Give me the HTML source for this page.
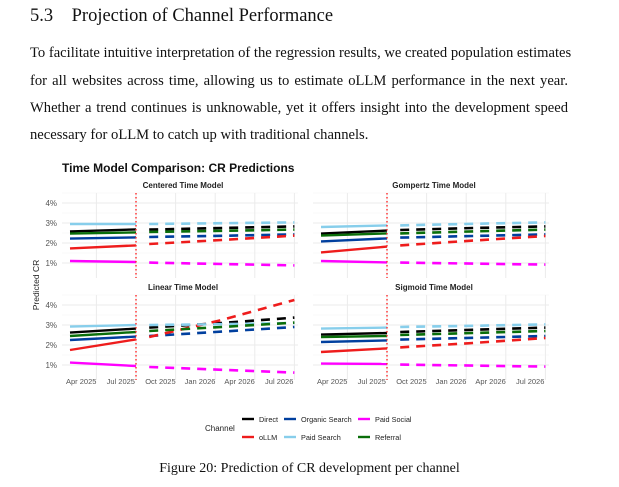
<!DOCTYPE html>
<html><head><meta charset="utf-8">
<style>
body{margin:0;width:619px;height:487px;background:#fff;overflow:hidden;position:relative;font-family:"Liberation Serif",serif;color:#111}
.ln{position:absolute;left:30px;width:538px;font-size:14.6px;white-space:nowrap}
.j{text-align:justify;text-align-last:justify}
</style></head><body>
<div style="position:absolute;left:30px;top:6px;font-size:18.5px;white-space:nowrap">5.3&nbsp;&nbsp;&nbsp;&nbsp;Projection of Channel Performance</div>
<div>
<div class="ln j" style="top:45px">To facilitate intuitive interpretation of the regression results, we created population estimates</div>
<div class="ln j" style="top:73px">for all websites across time, allowing us to estimate oLLM performance in the next year.</div>
<div class="ln j" style="top:100px">Whether a trend continues is unknowable, yet it offers insight into the development speed</div>
<div class="ln" style="top:127px">necessary for oLLM to catch up with traditional channels.</div>
</div>
<svg id="chart" style="position:absolute;left:0;top:150px" width="619" height="300" viewBox="0 150 619 300" font-family="Liberation Sans, sans-serif"></svg>
<div style="position:absolute;left:0;width:619px;top:461px;text-align:center;font-size:14px">Figure 20: Prediction of CR development per channel</div>
<script>
const channels=["Direct","Organic Search","Paid Social","oLLM","Paid Search","Referral"];
const colors={"Direct":"#000000","Organic Search":"#003f9e","Paid Social":"#ff00ff","oLLM":"#ee1c1c","Paid Search":"#87ceeb","Referral":"#0a6e0a"};
const yTicks=[1,2,3,4];
const tickLabels=["1%","2%","3%","4%"];
const xTickMonths=[0.85,3.85,6.85,9.85,12.85,15.85];
const xTickLabels=["Apr 2025","Jul 2025","Oct 2025","Jan 2026","Apr 2026","Jul 2026"];
const gridMonths=[2,5,8,11,14,17];
const histMonths=[0,5];
const fcMonths=[6,11.5,17];
const models=["Centered Time Model","Gompertz Time Model","Linear Time Model","Sigmoid Time Model"];
const histCentered={"Paid Search":[2.95,2.95],"Direct":[2.58,2.68],"Referral":[2.47,2.53],"Organic Search":[2.22,2.28],"oLLM":[1.73,1.88],"Paid Social":[1.1,1.05]};
const fcCentered={"Paid Search":[2.95,2.99,3.03],"Direct":[2.67,2.75,2.83],"Referral":[2.55,2.61,2.67],"Organic Search":[2.3,2.36,2.43],"oLLM":[1.95,2.15,2.37],"Paid Social":[1.02,0.95,0.88]};
const histGompertz={"Paid Search":[2.8,2.88],"Direct":[2.47,2.62],"Referral":[2.37,2.48],"Organic Search":[2.08,2.23],"oLLM":[1.53,1.82],"Paid Social":[1.1,1.03]};
const fcGompertz={"Paid Search":[2.88,2.96,3.03],"Direct":[2.65,2.75,2.83],"Referral":[2.48,2.58,2.67],"Organic Search":[2.27,2.35,2.43],"oLLM":[1.88,2.12,2.35],"Paid Social":[1.02,0.97,0.92]};
const histLinear={"Paid Search":[2.92,3.0],"Direct":[2.62,2.82],"Referral":[2.45,2.65],"Organic Search":[2.25,2.42],"oLLM":[1.75,2.28],"Paid Social":[1.12,0.95]};
const fcLinear={"Paid Search":[3.0,3.04,3.1],"Direct":[2.87,3.1,3.37],"Referral":[2.7,2.9,3.12],"Organic Search":[2.45,2.67,2.9],"oLLM":[2.4,3.25,4.25],"Paid Social":[0.9,0.76,0.62]};
const histSigmoid={"Paid Search":[2.82,2.87],"Direct":[2.52,2.6],"Referral":[2.4,2.45],"Organic Search":[2.15,2.23],"oLLM":[1.65,1.83],"Paid Social":[1.07,1.05]};
const fcSigmoid={"Paid Search":[2.9,2.96,3.03],"Direct":[2.65,2.76,2.87],"Referral":[2.5,2.6,2.7],"Organic Search":[2.27,2.36,2.45],"oLLM":[1.88,2.1,2.35],"Paid Social":[1.02,0.97,0.92]};

const svg=document.getElementById('chart');
const NS="http://www.w3.org/2000/svg";
function mk(tag,attrs,parent){const e=document.createElementNS(NS,tag);for(const k in attrs)e.setAttribute(k,attrs[k]);(parent||svg).appendChild(e);return e;}
const panels=[
 {name:"centered",title:models[0],ox:0,oy:0,h:histCentered,f:fcCentered,xl:false},
 {name:"gompertz",title:models[1],ox:251,oy:0,h:histGompertz,f:fcGompertz,xl:false},
 {name:"linear",title:models[2],ox:0,oy:102,h:histLinear,f:fcLinear,xl:true},
 {name:"sigmoid",title:models[3],ox:251,oy:102,h:histSigmoid,f:fcSigmoid,xl:true}];
const t=mk('text',{x:62,y:172,'font-size':12,'font-weight':'bold',fill:'#111'});t.textContent="Time Model Comparison: CR Predictions";


const yl=mk('text',{x:0,y:0,'font-size':8.5,fill:'#222','text-anchor':'middle',transform:'translate(39,285) rotate(-90)'});yl.textContent="Predicted CR";


panels.forEach(p=>{
 const g=mk('g',{});
 
 
 const X=m=>p.ox+70+m*13.2;
 const Y=v=>p.oy+223-(v-3)*20;
 const top=p.oy+193,bot=p.oy+278;
 yTicks.forEach((v,i)=>{mk('line',{x1:p.ox+62,x2:p.ox+298,y1:Y(v),y2:Y(v),stroke:'#ebebeb','stroke-width':1},g);
  mk('line',{x1:p.ox+62,x2:p.ox+298,y1:Y(v+0.5),y2:Y(v+0.5),stroke:'#f5f5f5','stroke-width':0.6},g);
  if(p.ox===0){const tl=mk('text',{x:57,y:Y(v)+3,'font-size':8,fill:'#555','text-anchor':'end'},g);tl.textContent=tickLabels[i];
  
  }});
 gridMonths.forEach(m=>mk('line',{x1:X(m),x2:X(m),y1:top,y2:bot,stroke:'#ebebeb','stroke-width':1},g));
 const pt=mk('text',{x:p.ox+183,y:p.oy+188,'font-size':8,'font-weight':'bold',fill:'#222','text-anchor':'middle'},g);pt.textContent=p.title;
 
 
 if(p.xl){xTickMonths.forEach((m,i)=>{const xt=mk('text',{x:X(m),y:384,'font-size':7.5,fill:'#555','text-anchor':'middle'},g);xt.textContent=xTickLabels[i];
  
  });}
 channels.forEach(c=>{
  const hp=histMonths.map((m,i)=>X(m)+','+Y(p.h[c][i])).join(' ');
  const l1=mk('polyline',{points:hp,fill:'none',stroke:colors[c],'stroke-width':2.4},g);
  
  
  const fp=fcMonths.map((m,i)=>X(m)+','+Y(p.f[c][i])).join(' ');
  const l2=mk('polyline',{points:fp,fill:'none',stroke:colors[c],'stroke-width':2.6,'stroke-dasharray':'9 7'},g);
  
  
 });
 const vl=mk('line',{x1:X(5),x2:X(5),y1:top,y2:bot,stroke:'#ff2a2a','stroke-width':1.4,'stroke-dasharray':'1.5 2.5'},g);
 
 
});
const lg=mk('g',{});


const lt=mk('text',{x:205,y:431,'font-size':8,fill:'#222'},lg);lt.textContent="Channel";
const legPos=[[242,419],[284,419],[358,419],[242,437],[284,437],[358,437]];
const legOrder=["Direct","Organic Search","Paid Social","oLLM","Paid Search","Referral"];
legOrder.forEach((c,i)=>{const [x,y]=legPos[i];
 const e=mk('g',{},lg);
 
 
 mk('line',{x1:x,x2:x+12,y1:y,y2:y,stroke:colors[c],'stroke-width':2.4},e);
 const tx=mk('text',{x:x+17,y:y+3,'font-size':7.3,fill:'#222'},e);tx.textContent=c;});
</script>
</body></html>
